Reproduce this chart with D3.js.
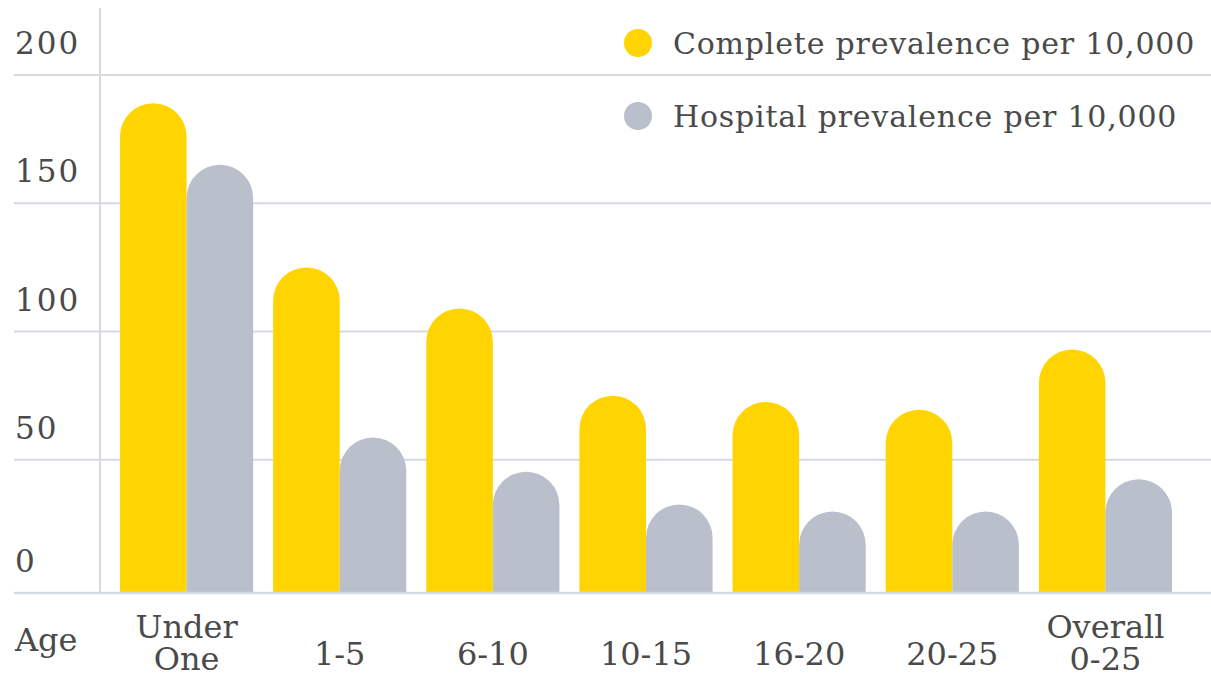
<!DOCTYPE html>
<html>
<head>
<meta charset="utf-8">
<script src="https://cdn.jsdelivr.net/npm/d3@7/dist/d3.min.js"></script>
<style>
  html, body { margin: 0; padding: 0; background: #ffffff; }
  svg { display: block; }
  text { font-family: "DejaVu Serif", "Liberation Serif", serif; fill: #4a4a4a; }
</style>
</head>
<body>
<svg id="chart" width="1211" height="678"></svg>
<script>
// Age groups (two-line labels are split with "\n")
const categories = ["Under\nOne", "1-5", "6-10", "10-15", "16-20", "20-25", "Overall\n0-25"];
const seriesNames = ["Complete prevalence per 10,000", "Hospital prevalence per 10,000"];
const completeValues = [189, 125, 109, 75, 72.5, 69.5, 93];
const hospitalValues = [165, 58.7, 45.3, 32.6, 29.8, 29.8, 42.4];
const yTicks = [0, 50, 100, 150, 200];
const axisTitle = "Age";

const colors = ["#FFD400", "#B9BFCB"];
const gridColor = "#D5D9E2";

const W = 1211, H = 678;
const svg = d3.select("#chart");

const y = d3.scaleLinear().domain([0, 200]).range([588, 75]);
const baseY = 593;      // drawn baseline, a few pixels under the zero grid position
const axisX = 100;

const x0 = d3.scaleBand()
  .domain(categories)
  .range([120, 1172])
  .paddingInner(20 / 153)
  .paddingOuter(0);

const x1 = d3.scaleBand()
  .domain([0, 1])
  .range([0, x0.bandwidth()])
  .padding(0);

// Horizontal grid lines
svg.append("g")
  .selectAll("line")
  .data(yTicks.filter(v => v > 0))
  .join("line")
  .attr("x1", 14).attr("x2", W)
  .attr("y1", d => y(d)).attr("y2", d => y(d))
  .attr("stroke", gridColor)
  .attr("stroke-width", 2);

// Vertical axis line
svg.append("line")
  .attr("x1", axisX).attr("x2", axisX)
  .attr("y1", 8).attr("y2", baseY)
  .attr("stroke", gridColor)
  .attr("stroke-width", 2);

// Tick labels, sitting above their grid line
svg.append("g")
  .selectAll("text")
  .data(yTicks)
  .join("text")
  .attr("x", 15)
  .attr("y", d => (d === 0 ? baseY : y(d)) - 21)
  .attr("font-size", 31)
  .attr("letter-spacing", 2)
  .text(d => d);

// Bars with a fully rounded top
function roundedBar(x, w, top, bottom) {
  const r = w / 2;
  const p = d3.path();
  p.moveTo(x, bottom);
  p.lineTo(x, Math.min(bottom, top + r));
  p.arc(x + r, top + r, r, Math.PI, 0, false);
  p.lineTo(x + w, bottom);
  p.closePath();
  return p.toString();
}

const rows = categories.map((c, i) => ({ cat: c, vals: [completeValues[i], hospitalValues[i]] }));

const groups = svg.append("g")
  .selectAll("g")
  .data(rows)
  .join("g")
  .attr("transform", d => `translate(${x0(d.cat)},0)`);

groups.selectAll("path")
  .data(d => d.vals.map((v, k) => ({ v, k })))
  .join("path")
  .attr("d", d => roundedBar(x1(d.k), x1.bandwidth(), y(d.v), baseY))
  .attr("fill", d => colors[d.k]);

// Baseline
svg.append("line")
  .attr("x1", 14).attr("x2", W)
  .attr("y1", baseY).attr("y2", baseY)
  .attr("stroke", gridColor)
  .attr("stroke-width", 2.5);

// Category labels
const labels = svg.append("g")
  .selectAll("text")
  .data(categories)
  .join("text")
  .attr("text-anchor", "middle")
  .attr("font-size", 32)
  .attr("x", d => x0(d) + x0.bandwidth() / 2);

labels.each(function (d) {
  const lines = d.split("\n");
  const t = d3.select(this);
  if (lines.length === 1) {
    t.attr("y", 665).text(lines[0]);
  } else {
    lines.forEach((ln, j) => {
      t.append("tspan")
        .attr("x", x0(d) + x0.bandwidth() / 2)
        .attr("y", 638 + j * 32)
        .text(ln);
    });
  }
});

svg.append("text")
  .attr("x", 15).attr("y", 651)
  .attr("font-size", 32)
  .text(axisTitle);

// Legend
const legend = svg.append("g")
  .selectAll("g")
  .data(seriesNames)
  .join("g")
  .attr("transform", (d, i) => `translate(638,${43 + i * 73})`);

legend.append("circle")
  .attr("r", 14)
  .attr("fill", (d, i) => colors[i]);

legend.append("text")
  .attr("x", 35)
  .attr("y", 11)
  .attr("font-size", 30)
  .attr("letter-spacing", 0.8)
  .text(d => d);
</script>
</body>
</html>
